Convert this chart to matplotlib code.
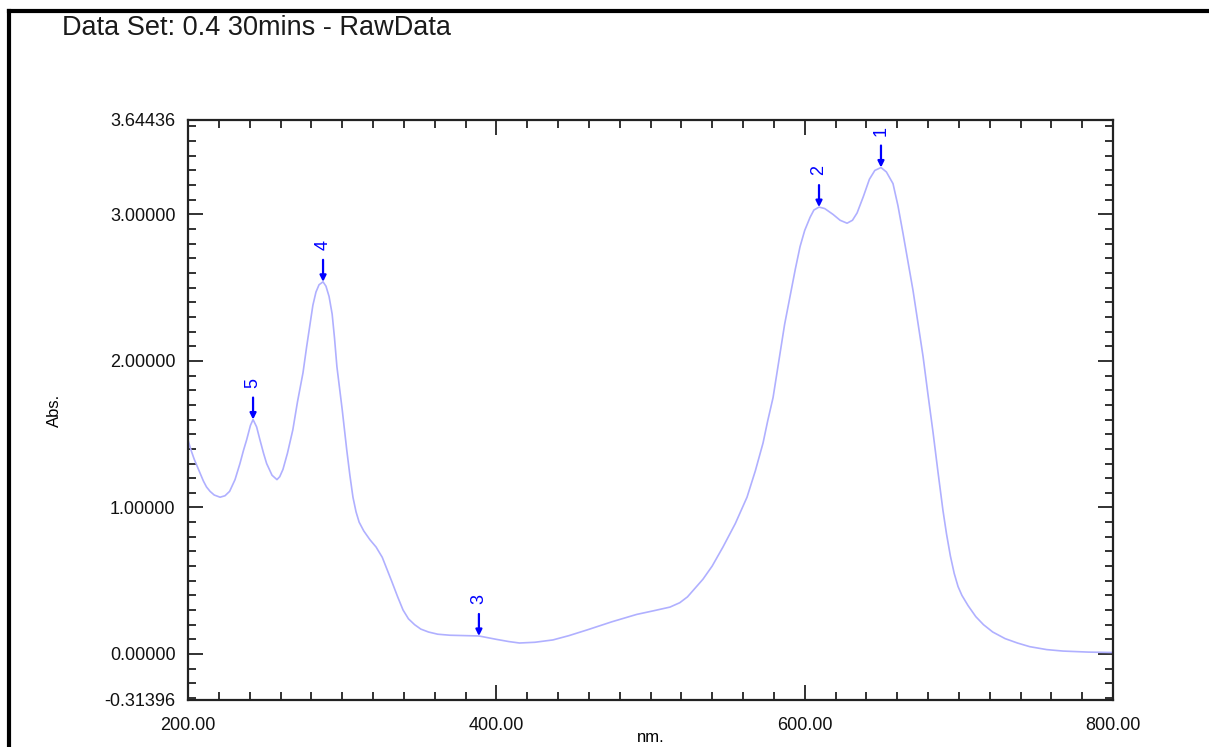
import matplotlib
matplotlib.use("Agg")
import matplotlib.pyplot as plt
import numpy as np
from matplotlib.lines import Line2D
from matplotlib.ticker import FixedLocator, MultipleLocator, FuncFormatter

plt.rcParams['font.family'] = ['Liberation Sans', 'DejaVu Sans']

# spectrum (nm, Abs.)
wavelength = [200, 202, 204, 206, 208, 210, 212, 214.3, 217, 220.8, 224, 227, 230.5, 233.7,
              236, 238, 240.5, 242.2, 244.5, 246.7, 249, 251, 254.5, 257.7, 259.5, 261.6,
              264.5, 268, 271, 274.6, 277, 279, 281, 283, 285, 287.6, 289.5, 291.5, 293.5,
              295, 296.6, 298.5, 300, 301.5, 303, 305, 307, 309, 311, 314, 318, 322, 326,
              329, 332, 336, 339.5, 343, 347, 351, 356, 362, 370, 380, 388.7, 400, 408, 415,
              425, 436.7, 447, 458.8, 475, 491, 502, 512.6, 519, 524, 529, 534, 540, 547,
              555, 562.6, 568, 573, 576, 579.5, 584, 587, 590.5, 594, 597, 600, 603.5, 606,
              609.3, 613, 618.4, 623, 627.5, 631, 634, 638, 642, 645.5, 649.5, 653, 657.3,
              660.5, 663.8, 667, 670.3, 673.5, 676.8, 680, 683.3, 686.5, 689.7, 692, 694.5,
              697, 699.5, 702, 706, 711, 716, 722, 730, 738, 746, 757, 767.6, 784, 800]
absorbance = [1.46, 1.39, 1.33, 1.28, 1.23, 1.18, 1.14, 1.11, 1.085, 1.07, 1.08, 1.11, 1.19,
              1.30, 1.39, 1.46, 1.56, 1.60, 1.55, 1.46, 1.37, 1.30, 1.22, 1.19, 1.21, 1.26,
              1.37, 1.53, 1.72, 1.92, 2.10, 2.24, 2.38, 2.47, 2.52, 2.54, 2.51, 2.44, 2.32,
              2.16, 1.96, 1.80, 1.67, 1.53, 1.39, 1.22, 1.07, 0.97, 0.90, 0.84, 0.78, 0.73,
              0.66, 0.58, 0.50, 0.39, 0.30, 0.24, 0.20, 0.17, 0.15, 0.135, 0.128, 0.125, 0.123,
              0.10, 0.085, 0.075, 0.08, 0.096, 0.125, 0.164, 0.22, 0.27, 0.295, 0.32, 0.35,
              0.39, 0.45, 0.51, 0.60, 0.73, 0.89, 1.07, 1.25, 1.44, 1.59, 1.75, 2.05, 2.25,
              2.44, 2.63, 2.78, 2.89, 2.98, 3.03, 3.05, 3.04, 3.00, 2.96, 2.94, 2.96, 3.01,
              3.12, 3.24, 3.30, 3.32, 3.29, 3.21, 3.06, 2.87, 2.68, 2.48, 2.26, 2.03, 1.77,
              1.51, 1.24, 0.98, 0.82, 0.67, 0.55, 0.46, 0.40, 0.33, 0.255, 0.20, 0.15, 0.105,
              0.075, 0.05, 0.03, 0.02, 0.013, 0.01]

peak_labels = ['1', '2', '3', '4', '5']
peak_nm = [649.5, 609.3, 388.7, 287.6, 242.2]

y_min, y_max = -0.31396, 3.64436
y_ticks = [y_min, 0, 1, 2, 3, y_max]
x_ticks = [200, 400, 600, 800]

fig = plt.figure(figsize=(12.09, 7.47), dpi=100)
ax = fig.add_axes([188 / 1209, 47 / 747, 925 / 1209, 580 / 747])

ax.plot(wavelength, absorbance, color='#b0b0ff', lw=1.2)

# peak pick markers
for lab, nm in zip(peak_labels, peak_nm):
    a = np.interp(nm, wavelength, absorbance)
    ax.annotate('', xy=(nm, a), xytext=(0, 22), textcoords='offset pixels',
                arrowprops=dict(arrowstyle='-|>', color='blue', lw=1.6,
                                mutation_scale=9, shrinkA=0, shrinkB=0))
    ax.annotate(lab, xy=(nm, a), xytext=(0, 37), textcoords='offset pixels',
                rotation=90, ha='center', va='center', color='blue', fontsize=13)

ax.set_xlim(200, 800)
ax.set_ylim(y_min, y_max)
ax.xaxis.set_major_locator(FixedLocator(x_ticks))
ax.xaxis.set_minor_locator(MultipleLocator(20))
ax.yaxis.set_major_locator(FixedLocator(y_ticks))
ax.yaxis.set_minor_locator(MultipleLocator(0.1))
ax.xaxis.set_major_formatter(FuncFormatter(lambda v, p: '%.2f' % v))
ax.yaxis.set_major_formatter(FuncFormatter(lambda v, p: '%.5f' % v))

ax.tick_params(which='both', direction='in', top=True, right=True, width=1.3,
               color='#222222', labelsize=13, labelcolor='#111111')
ax.tick_params(which='major', length=11)
ax.tick_params(which='minor', length=6)
ax.tick_params(axis='x', pad=12)
ax.tick_params(axis='y', pad=9)
for s in ax.spines.values():
    s.set_linewidth(1.6)
    s.set_color('#222222')

ax.set_ylabel('Abs.', fontsize=12)
ax.yaxis.set_label_coords(-0.136, 0.5)
ax.set_xlabel('nm.', fontsize=12)
ax.xaxis.set_label_coords(0.5, -0.052)

fig.text(62 / 1209, 1 - 28 / 747, 'Data Set: 0.4 30mins - RawData', fontsize=19.5,
         va='center', ha='left', color='#1a1a1a')

# frame lines at the top and left of the page
fig.add_artist(Line2D([9 / 1209, 1], [1 - 11 / 747, 1 - 11 / 747], transform=fig.transFigure,
                      color='black', lw=3))
fig.add_artist(Line2D([9 / 1209, 9 / 1209], [0, 1 - 11 / 747], transform=fig.transFigure,
                      color='black', lw=3))

fig.savefig('out.png', dpi=100)
